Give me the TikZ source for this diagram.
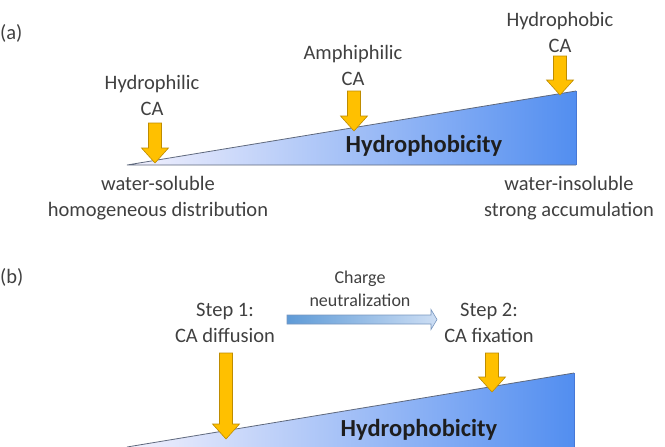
\documentclass[tikz,border=0pt]{standalone}
\usepackage{fontspec}
\setmainfont{Carlito}
\definecolor{txt}{RGB}{64,64,64}
\definecolor{txtdark}{RGB}{30,30,30}
\definecolor{trileft}{RGB}{243,241,253}
\definecolor{triright}{RGB}{82,142,240}
\definecolor{triedge}{RGB}{95,105,125}
\definecolor{triedgeR}{RGB}{70,120,215}
\definecolor{gold}{RGB}{255,192,0}
\definecolor{goldedge}{RGB}{190,140,0}
\definecolor{cnleft}{RGB}{95,155,215}
\definecolor{cnright}{RGB}{205,222,244}
\definecolor{cnedge}{RGB}{120,150,190}
\tikzset{
  lbl/.style={text=txt, inner sep=0pt, align=center, font=\fontsize{20.5}{26}\selectfont},
  smalllbl/.style={text=txt, inner sep=0pt, align=center, font=\fontsize{18}{23}\selectfont},
  hydro/.style={text=txtdark, inner sep=0pt, font=\fontsize{24.5}{28}\selectfont\bfseries},
  yarrow/.style={fill=gold, draw=goldedge, line width=0.6pt, line join=miter},
  tri/.style={left color=trileft, right color=triright},
  triline/.style={draw=triedge, line width=0.8pt},
  trilineR/.style={draw=triedgeR, line width=0.8pt},
}
% #1 x, #2 top y, #3 tip y
\newcommand\goldarrow[3]{%
  \filldraw[yarrow] (#1-6.5,#2) -- (#1+6.5,#2) -- (#1+6.5,#3-15) -- (#1+13.5,#3-15)
    -- (#1,#3) -- (#1-13.5,#3-15) -- (#1-6.5,#3-15) -- cycle;}
\begin{document}
\begin{tikzpicture}[x=1pt,y=-1pt]
\useasboundingbox (0,0) rectangle (665,447);
% ---------- panel (a) ----------
\coordinate (aL) at (127,165);
\coordinate (aR) at (576,165);
\coordinate (aT) at (576,91);
\shade[tri] (aL) -- (aT) -- (aR) -- cycle;
\draw[trilineR] (aT) -- (aR);
\draw[triline] (aR) -- (aL) -- (aT);
\goldarrow{155}{123}{163}
\goldarrow{354}{91}{131}
\goldarrow{560}{56}{95}
\node[lbl, anchor=west] (la) at (0,33) {(a)};
\node[lbl] (phobic) at (560,32) {Hydrophobic\\CA};
\node[lbl] (amphi) at (353,65) {Amphiphilic\\CA};
\node[lbl] (philic) at (152,95) {Hydrophilic\\CA};
\node[hydro] (hya) at (424,146) {Hydrophobicity};
\node[lbl] (soluble) at (158,198) {water-soluble\\homogeneous distribution};
\node[lbl] (insoluble) at (569,198) {water-insoluble\\strong accumulation};
% ---------- panel (b) ----------
\coordinate (bL) at (127,447);
\coordinate (bR) at (574,447);
\coordinate (bT) at (574,373);
\shade[tri] (bL) -- (bT) -- (bR) -- cycle;
\draw[trilineR] (bT) -- (bR);
\draw[triline] (bL) -- (bT);
\goldarrow{226}{353}{439}
\goldarrow{492}{353}{392}
\node[lbl, anchor=west] (lb) at (0,277) {(b)};
\node[smalllbl] (charge) at (360,289) {Charge\\neutralization};
\node[lbl] (step1) at (225,323) {Step 1:\\CA diffusion};
\node[lbl] (step2) at (489,323) {Step 2:\\CA fixation};
\node[hydro] (hyb) at (419,430) {Hydrophobicity};
\shade[left color=cnleft, right color=cnright, draw=cnedge, line width=0.6pt]
  (287,315) -- (431,315) -- (431,309.5) -- (437,319.5) -- (431,329.5) -- (431,324) -- (287,324) -- cycle;
\end{tikzpicture}
\end{document}
